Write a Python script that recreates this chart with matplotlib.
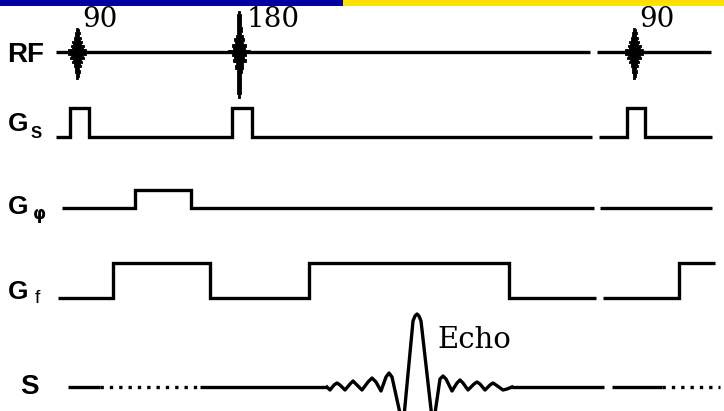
import matplotlib
matplotlib.use("Agg")
import matplotlib.pyplot as plt
from matplotlib.patches import Rectangle

# --- sequence timing (pixel time axis) ---
rf_segments = [(56, 590), (597, 711)]
rf_pulse_t = [77, 239, 634]
rf_pulse_kind = ["90", "180", "90"]

# RF pulse envelopes: vertical offset vs half width
rf90_dy = [-24, -21, -19, -16, -14, -12, -10, -8, -6, -4, -2, 0, 2, 4, 6, 8, 10, 12, 14, 17, 20, 23, 27]
rf90_hw = [1.0, 1.5, 2.5, 2.0, 3.5, 3.0, 5.0, 4.0, 6.5, 5.5, 9.0, 11.0, 9.0, 6.0, 7.0, 4.0, 5.0, 3.0, 3.5, 2.0, 2.5, 1.5, 1.0]
rf180_dy = [-41, -34, -28, -22, -18, -15, -12, -9, -6, -3, 0, 3, 6, 9, 12, 15, 19, 24, 30, 38, 46]
rf180_hw = [1.4, 1.8, 1.6, 2.5, 2.0, 3.5, 5.0, 4.0, 7.0, 6.0, 11.0, 7.0, 5.0, 6.5, 3.5, 4.0, 2.5, 2.0, 2.2, 1.8, 1.4]

# gradient channels: edge times and levels (steps-post)
gs_t = [[56, 70, 89, 232, 252, 592], [599, 627, 645, 712]]
gs_lv = [[0, 1, 0, 1, 0, 0], [0, 1, 0, 0]]
gp_t = [[62, 135, 191, 594], [600, 712]]
gp_lv = [[0, 1, 0, 0], [0, 0]]
gf_t = [[58, 113, 210, 309, 509, 596], [603, 679, 715]]
gf_lv = [[0, 1, 0, 1, 0, 0], [0, 1, 1]]

# signal line pieces
s_solid = [(68, 100), (200, 327), (510, 604), (612, 662)]
s_dotted = [(100, 200), (662, 720)]
echo_t = [327, 330, 334, 337, 340, 345, 350, 353, 356, 362, 368, 372, 376, 381,
          386, 389, 392, 403, 413, 415, 417, 419, 421, 433, 440, 443, 446,
          452, 457, 460, 463, 468, 474, 477, 480, 485, 490, 493, 496, 503, 507, 512]
echo_v = [0, -3, 2, 4, 2, -3, 3, 6, 3, -3, 5, 9, 5, -4,
          10, 14, 10, -40, 66, 71, 73, 71, 66, -40, 8, 11, 8,
          -4, 4, 7, 4, -3, 3, 5, 3, -3, 2, 4, 2, -3, -2, 0]

# --- layout ---
rows = {"RF": 52, "Gs": 137, "Gp": 208, "Gf": 298, "S": 387}
amp = {"Gs": 29, "Gp": 18, "Gf": 35}
LW = 2.4

fig = plt.figure(figsize=(7.24, 4.11), dpi=100)
ax = fig.add_axes([0, 0, 1, 1])
ax.set_xlim(0, 724)
ax.set_ylim(411, 0)
ax.axis("off")

# top banner strip
ax.add_patch(Rectangle((0, 0), 343, 6, color="#0000a0", lw=0))
ax.add_patch(Rectangle((343, 0), 381, 6, color="#ffe100", lw=0))

# RF
y0 = rows["RF"]
for a, b in rf_segments:
    ax.plot([a, b], [y0, y0], color="black", lw=LW, solid_capstyle="butt")
for t, kind in zip(rf_pulse_t, rf_pulse_kind):
    dy, hw = (rf90_dy, rf90_hw) if kind == "90" else (rf180_dy, rf180_hw)
    yy = [y0 + d for d in dy]
    ax.fill_betweenx(yy, [t - h for h in hw], [t + h for h in hw],
                     color="black", lw=0.6, edgecolor="black", step="mid")
    ax.text(t + 5 if kind == "90" else t + 8, 27, kind, fontsize=20,
            family="DejaVu Serif", va="baseline", ha="left")

# gradients
for key, tl, ll in [("Gs", gs_t, gs_lv), ("Gp", gp_t, gp_lv), ("Gf", gf_t, gf_lv)]:
    for t, lv in zip(tl, ll):
        ax.plot(t, [rows[key] - amp[key] * v for v in lv], color="black", lw=LW,
                drawstyle="steps-post", solid_joinstyle="miter",
                solid_capstyle="butt")

# signal
ys = rows["S"]
for a, b in s_solid:
    ax.plot([a, b], [ys, ys], color="black", lw=LW, solid_capstyle="butt")
for a, b in s_dotted:
    ax.plot([a, b], [ys, ys], color="black", lw=LW, linestyle=(0, (1, 1.8)),
            dash_capstyle="butt")
ax.plot(echo_t, [ys - v for v in echo_v], color="black", lw=LW,
        solid_joinstyle="round")
ax.text(437, 348, "Echo", fontsize=21, family="DejaVu Serif", va="baseline")

# channel labels
sans = "Liberation Sans"
ax.text(7, 62, "RF", fontsize=20, fontweight="bold", family=sans, va="baseline")
ax.text(8, 131, "G", fontsize=19, fontweight="bold", family=sans, va="baseline")
ax.text(31, 138, "S", fontsize=12, fontweight="bold", family=sans, va="baseline")
ax.text(8, 214, "G", fontsize=19, fontweight="bold", family=sans, va="baseline")
ax.text(33, 219, "φ", fontsize=12, fontweight="bold", family="DejaVu Sans", va="baseline")
ax.text(8, 299, "G", fontsize=19, fontweight="bold", family=sans, va="baseline")
ax.text(35, 303, "f", fontsize=14, family=sans, va="baseline")
ax.text(20, 394, "S", fontsize=20, fontweight="bold", family=sans, va="baseline")

fig.savefig("out.png", dpi=100)
